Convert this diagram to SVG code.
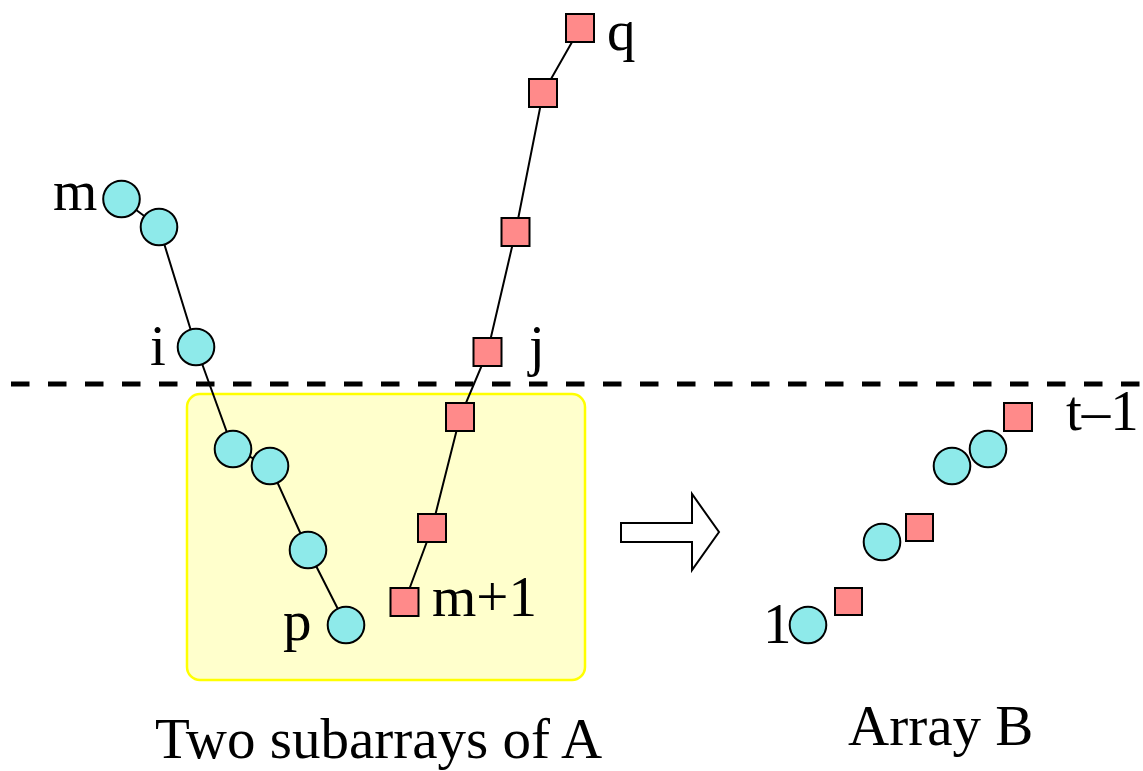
<svg xmlns="http://www.w3.org/2000/svg" width="1143" height="771" viewBox="0 0 1143 771">
<style>
.c{fill:#8eeaea;stroke:#000;stroke-width:2}
.s{fill:#ff8a8a;stroke:#000;stroke-width:2}
.l{fill:none;stroke:#000;stroke-width:2}
.t{font-family:"Liberation Serif","Times New Roman",serif;font-size:57px;fill:#000}
</style>
<rect width="1143" height="771" fill="#fff"/>
<g id="box"><rect x="187" y="394" width="398" height="286" rx="13" fill="#ffffcc" stroke="#ffff00" stroke-width="2.5"/></g>
<g id="divider"><line x1="11" y1="384" x2="1143" y2="384" stroke="#000" stroke-width="5" stroke-dasharray="18.5 18.5"/></g>
<g id="connectors">
<polyline class="l" points="121.5,199 159,227 196,347 233,449 270,466 308,550 346,625"/>
<polyline class="l" points="580,28 543,93 515.5,232 487.5,352 460,417 432,528 404.5,602"/>
</g>
<g id="a-m"><circle class="c" cx="121.5" cy="199" r="18.3"/></g>
<g id="a-2"><circle class="c" cx="159" cy="227" r="18.3"/></g>
<g id="a-i"><circle class="c" cx="196" cy="347" r="18.3"/></g>
<g id="a-4"><circle class="c" cx="233" cy="449" r="18.3"/></g>
<g id="a-5"><circle class="c" cx="270" cy="466" r="18.3"/></g>
<g id="a-6"><circle class="c" cx="308" cy="550" r="18.3"/></g>
<g id="a-p"><circle class="c" cx="346" cy="625" r="18.3"/></g>
<g id="b-q"><rect class="s" x="566" y="14" width="28" height="28"/></g>
<g id="b-2"><rect class="s" x="529" y="79" width="28" height="28"/></g>
<g id="b-3"><rect class="s" x="501.5" y="218" width="28" height="28"/></g>
<g id="b-j"><rect class="s" x="473.5" y="338" width="28" height="28"/></g>
<g id="b-5"><rect class="s" x="446" y="403" width="28" height="28"/></g>
<g id="b-6"><rect class="s" x="418" y="514" width="28" height="28"/></g>
<g id="b-m1"><rect class="s" x="390.5" y="588" width="28" height="28"/></g>
<g id="arrow"><polygon points="621,523 692,523 692,494 719,532 692,570 692,542 621,542" fill="#fff" stroke="#000" stroke-width="2"/></g>
<g id="r-1"><circle class="c" cx="808" cy="625" r="18.3"/></g>
<g id="r-2"><rect class="s" x="835" y="588" width="27" height="27"/></g>
<g id="r-3"><circle class="c" cx="882" cy="542" r="18.3"/></g>
<g id="r-4"><rect class="s" x="906" y="514" width="27" height="27"/></g>
<g id="r-5"><circle class="c" cx="952" cy="466" r="18.3"/></g>
<g id="r-6"><circle class="c" cx="988" cy="449" r="18.3"/></g>
<g id="r-7"><rect class="s" x="1004" y="403" width="28" height="28"/></g>
<g id="labels">
<text class="t" x="53" y="210">m</text>
<text class="t" x="150" y="365">i</text>
<text class="t" x="529" y="365">j</text>
<text class="t" x="607" y="50">q</text>
<text class="t" x="283" y="640">p</text>
<text class="t" x="432" y="616">m+1</text>
<text class="t" x="763" y="643">1</text>
<text class="t" x="1066" y="430">t–1</text>
<text class="t" x="155" y="758" font-size="58.5">Two subarrays of A</text>
<text class="t" x="848" y="745" font-size="58">Array B</text>
</g>
</svg>
